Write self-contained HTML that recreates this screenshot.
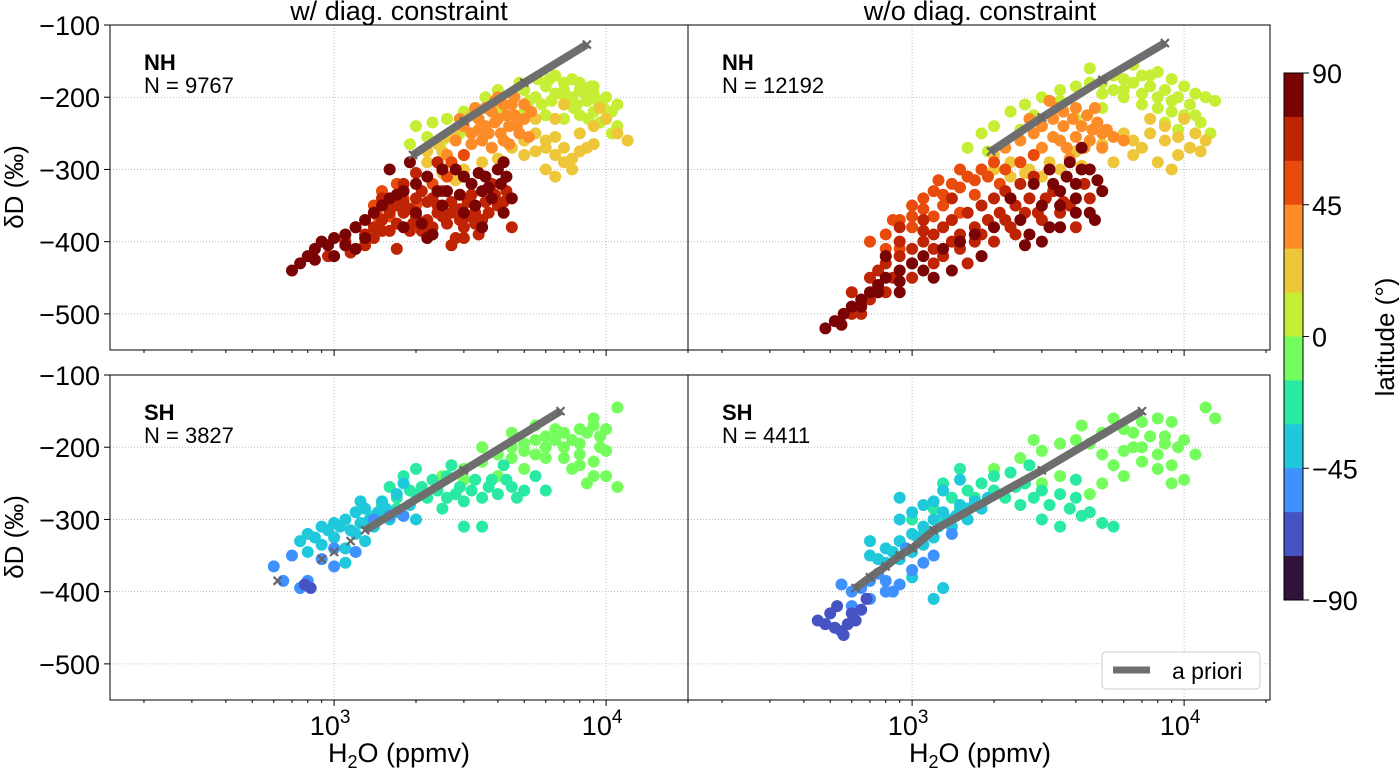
<!DOCTYPE html>
<html><head><meta charset="utf-8">
<style>
body{margin:0;background:#fff;}
svg{display:block;font-family:"Liberation Sans","DejaVu Sans",sans-serif;}
</style></head>
<body>
<svg id="chart" width="1399" height="769" viewBox="0 0 1399 769"></svg>
<script>
// ---- data ----
const xTicks=[1000,10000];
const yTicks=[-100,-200,-300,-400,-500];
const yTickLabels=["−100","−200","−300","−400","−500"];
const cbTicks=[90,45,0,-45,-90];
const cbTickLabels=["90","45","0","−45","−90"];
const latBands=[90,75,60,45,30,15,0,-15,-30,-45,-60,-75,-90];
const bandColors=["#7a0403","#bf2404","#e84b0c","#fb8c28","#edc63a","#c6ee34","#74fd5c","#2ae9a2","#20c8dc","#3f91fd","#4553c3","#30123b"];
const panelTitles=["NH","NH","SH","SH"];
const panelCounts=["N = 9767","N = 12192","N = 3827","N = 4411"];

const tl_lat8=[[2000,-240],[2300,-235],[2600,-230],[3000,-220],[3300,-215],[2200,-255],[2500,-260],[2900,-250],[4500,-195],[5000,-190],[5500,-200],[6000,-185],[6500,-195],[7000,-180],[7500,-200],[8000,-190],[8500,-205],[9000,-195],[10000,-200],[11000,-210],[6000,-225],[7000,-230],[8000,-225],[9000,-220],[10000,-230],[5000,-220],[7500,-175],[6500,-170],[4000,-215],[3600,-200],[1900,-265],
[5200,-205],[5800,-210],[6300,-205],[6800,-195],[7300,-205],[7800,-210],[8300,-195],[8800,-185],[9300,-205],[9800,-215],[6200,-175],[7000,-190],[8000,-180],[9000,-185],[10500,-220],[11000,-240],[10500,-250],[4800,-180],[4000,-190],[5600,-175],[7600,-215],[8600,-230],[9500,-235]];
const tl_lat22=[[2500,-275],[2700,-290],[3000,-300],[3500,-290],[4000,-285],[4500,-270],[5000,-260],[5500,-250],[6000,-260],[6500,-280],[7000,-290],[7500,-300],[6000,-300],[5000,-280],[5500,-230],[6500,-230],[7000,-210],[8000,-250],[9000,-240],[10000,-230],[11000,-250],[8500,-270],[2200,-290],[6500,-310],[12000,-260],[9500,-215],
[2200,-275],[2400,-265],[2600,-255],[2800,-245],[3000,-235],[3200,-225],[2500,-305],[2800,-315],[5500,-275],[6000,-270],[7000,-270],[8000,-275],[7500,-285],[9000,-265],[6500,-255]];
const tl_lat38=[[2800,-260],[3000,-240],[3200,-250],[3400,-230],[3600,-240],[3800,-220],[4000,-230],[4200,-210],[4400,-240],[4600,-225],[3500,-260],[3000,-280],[3800,-270],[4200,-260],[2600,-280],[5000,-210],[4800,-250],[3300,-215],[2900,-230],[4000,-200],
[3600,-215],[3900,-235],[4100,-250],[4300,-225],[4500,-210],[4700,-240],[5000,-230],[5300,-220],[3700,-250],[4400,-265],[3200,-265],[5200,-255],[4600,-200],[3400,-245],[3900,-205]];
const tl_lat50=[[1400,-350],[1500,-330],[1600,-345],[1700,-320],[1800,-340],[2000,-350],[1600,-365],[1450,-365],[2300,-320],[2700,-290],[3000,-280],[2600,-310]];
const tl_lat65=[[1300,-390],[1400,-380],[1500,-370],[1600,-360],[1700,-350],[1800,-345],[1900,-355],[2000,-340],[2100,-330],[2300,-340],[2500,-330],[2700,-345],[2900,-355],[3100,-345],[3300,-360],[3500,-370],[3700,-360],[4000,-350],[2200,-370],[2600,-375],[3000,-380],[3400,-390],[1800,-320],[2000,-305],[2400,-290],[1500,-340],[1200,-380],[1100,-400],[4500,-380],[2800,-395],[1700,-410],[1950,-375],[3800,-320],[1600,-385],[2400,-360],
[1400,-395],[1500,-385],[1700,-375],[1900,-385],[2100,-385],[2300,-380],[2500,-365],[2700,-360],[2900,-370],[3100,-365],[3300,-375],[3600,-345],[3200,-335],[2400,-350],[2000,-365],[1800,-360],[1300,-405],[1150,-415],[950,-420],[2700,-405],[3900,-335],[4300,-330],[3000,-395],[2200,-345],[1600,-350],[4200,-345]];
const tl_lat80=[[700,-440],[750,-430],[800,-420],[850,-410],[900,-400],[950,-405],[1000,-395],[1100,-390],[1200,-380],[1300,-370],[1400,-360],[1500,-350],[1600,-340],[1700,-335],[1800,-330],[2000,-320],[2200,-310],[2500,-300],[2800,-300],[3000,-310],[3200,-320],[3500,-330],[3800,-340],[4000,-300],[4200,-290],[3000,-360],[2500,-350],[2000,-360],[1800,-380],[3500,-380],[2200,-395],[4500,-340],[1600,-300],[1900,-290],[1200,-410],[1000,-420],[850,-425],[2600,-330],[3300,-350],[4200,-360],
[3600,-310],[3700,-325],[4100,-320],[4300,-310],[3400,-305],[2400,-330],[2900,-335],[1300,-395],[1100,-405],[2100,-375],[2300,-390]];
const tl_prior=[[1950,-280],[3000,-233],[5000,-180],[8500,-127]];

const tr_lat8=[[1600,-270],[1800,-250],[2000,-240],[2300,-220],[2600,-210],[3000,-200],[3500,-190],[4000,-185],[5000,-180],[6000,-175],[7000,-170],[8000,-165],[9000,-175],[10000,-185],[11000,-195],[12000,-200],[13000,-205],[6000,-200],[7000,-210],[8000,-215],[9000,-220],[10000,-225],[5000,-215],[4000,-230],[3000,-240],[2500,-245],[1900,-275],[6500,-155],[4500,-160],[5500,-190],[11000,-225],
[5500,-170],[6500,-180],[7500,-185],[8500,-190],[9500,-200],[10500,-210],[7000,-195],[8000,-200],[9000,-205],[6000,-190],[5000,-195],[4500,-180],[11500,-235],[12500,-250],[9500,-245],[8500,-235],[7500,-170],[3500,-205],[2800,-225]];
const tr_lat22=[[1800,-300],[2000,-280],[2300,-290],[2700,-300],[3200,-290],[4000,-275],[5000,-265],[6000,-250],[7000,-270],[8000,-290],[9000,-300],[8500,-240],[10000,-230],[11000,-250],[12000,-260],[6500,-280],[5500,-290],[7500,-230],[9500,-280],[1600,-310],
[2000,-300],[2300,-310],[2600,-305],[3000,-310],[3500,-300],[4200,-295],[6500,-260],[7500,-250],[8500,-260],[10500,-270],[11500,-275],[9500,-255]];
const tr_lat38=[[2200,-270],[2500,-260],[2800,-250],[3000,-240],[3300,-230],[3600,-220],[4000,-215],[4400,-225],[4800,-235],[5200,-245],[3000,-270],[3500,-260],[4000,-255],[4500,-260],[2500,-290],[3800,-285],[5000,-270],[3200,-205],[2700,-230],
[3600,-240],[3900,-230],[4200,-240],[4600,-245],[5000,-250],[5500,-255],[4300,-270],[3300,-255],[3700,-270],[4700,-215],[3400,-215],[6000,-260]];
const tr_lat50=[[800,-390],[900,-370],[1000,-350],[1100,-340],[1200,-330],[1400,-320],[1600,-310],[1800,-300],[2000,-290],[2200,-300],[1300,-350],[1500,-360],[1000,-380],[700,-400],[2500,-290],[2800,-280],[1700,-335],[2100,-320],[1200,-365],[900,-410],
[1100,-355],[1300,-335],[1500,-325],[1700,-315],[1900,-310],[1000,-365],[800,-410],[850,-370],[1250,-315],[1500,-300]];
const tr_lat65=[[600,-470],[700,-450],[800,-430],[900,-420],[1000,-410],[1100,-400],[1200,-390],[1300,-380],[1400,-370],[1600,-360],[1800,-350],[2000,-340],[2200,-330],[2500,-320],[2800,-310],[3100,-340],[2600,-360],[2200,-370],[1800,-390],[1500,-410],[1200,-430],[1000,-450],[800,-470],[650,-500],[1100,-370],[1400,-340],[2000,-400],[2400,-390],[3000,-370],[3500,-360],[4000,-380],[4500,-340],[900,-380],[750,-440],[1600,-430],
[1300,-420],[1500,-390],[1700,-380],[1900,-370],[2100,-360],[2400,-350],[2700,-340],[3300,-330],[2900,-360],[2300,-380],[1700,-400],[1400,-400],[1000,-430],[850,-450],[700,-480],[600,-500],[1200,-410],[900,-400],[1100,-385],[3800,-350],[4300,-320],[3600,-345]];
const tr_lat80=[[480,-520],[520,-510],[560,-500],[600,-490],[650,-480],[700,-470],[750,-460],[800,-450],[900,-440],[1000,-430],[1100,-420],[1300,-410],[1500,-400],[1700,-390],[2000,-380],[2500,-370],[3000,-350],[3500,-330],[4000,-320],[4500,-300],[3800,-290],[3200,-300],[2800,-320],[2300,-340],[3500,-380],[4000,-360],[4500,-360],[2600,-405],[1200,-450],[900,-470],[1400,-440],[800,-420],[4200,-270],[5000,-330],[3000,-400],[1800,-420],
[550,-515],[650,-490],[750,-470],[900,-455],[1100,-440],[3300,-320],[3700,-310],[4200,-300],[4800,-315],[4000,-340],[3500,-350],[4700,-370],[3200,-380],[2700,-390]];
const tr_prior=[[1950,-275],[3000,-228],[5000,-176],[8500,-125]];

const bl_lat7=[[2500,-240],[3000,-230],[3500,-220],[4000,-210],[4500,-200],[5000,-195],[5500,-190],[6000,-185],[7000,-180],[8000,-175],[9000,-170],[10000,-175],[11000,-145],[9000,-160],[7000,-200],[8000,-210],[9000,-220],[10000,-240],[11000,-255],[6000,-215],[5000,-230],[4000,-240],[7500,-230],[8500,-250],[6500,-190],[5500,-170],[4500,-180],[3500,-200],[3000,-245],[9500,-200],
[6500,-175],[7500,-190],[8500,-180],[9500,-185],[10000,-205],[7000,-215],[8000,-225],[6000,-200],[5000,-205],[4500,-215],[5500,-210],[9000,-240],[8000,-195]];
const bl_lat22=[[1500,-280],[1700,-270],[1900,-260],[2100,-255],[2300,-245],[2600,-240],[2900,-255],[3200,-260],[3500,-270],[4000,-265],[4500,-255],[5000,-260],[3000,-310],[3500,-310],[2500,-285],[2000,-230],[1800,-240],[2200,-270],[1400,-295],[3800,-245],[4200,-225],[5500,-240],[6000,-260],[2700,-225],[1600,-255],
[2400,-260],[2800,-265],[3300,-245],[3700,-255],[4300,-245],[2000,-265],[1700,-285],[2600,-270],[3000,-275],[4700,-270]];
const bl_lat37=[[800,-320],[900,-310],[1000,-305],[1100,-300],[1200,-290],[1300,-285],[1500,-275],[1700,-265],[1900,-280],[1000,-325],[900,-335],[1200,-320],[1400,-310],[1600,-300],[800,-345],[1100,-340],[2000,-300],[1300,-330],[1800,-250],[1100,-360],[750,-330],
[950,-315],[1050,-310],[1150,-315],[1250,-305],[1350,-300],[1450,-290],[850,-325],[1550,-285],[1250,-275],[1700,-290]];
const bl_lat52=[[600,-365],[650,-385],[800,-385],[750,-395],[900,-355],[1000,-340],[1200,-345],[1400,-300],[1600,-295],[1800,-295],[700,-350],[1000,-365]];
const bl_lat67=[[780,-390],[820,-395]];
const bl_prior=[[1300,-315],[3000,-232],[6800,-150]];
const bl_prior_extra=[[620,-385],[900,-355],[1000,-345],[1150,-330]];

const br_lat7=[[2000,-230],[2500,-215],[3000,-205],[3500,-195],[4000,-190],[5000,-180],[6000,-175],[7000,-165],[8000,-160],[9000,-165],[10000,-190],[11000,-210],[12000,-145],[13000,-160],[10000,-245],[9000,-225],[8000,-210],[7000,-220],[6000,-240],[5000,-250],[4500,-265],[3500,-240],[3000,-250],[6500,-200],[8500,-185],[4200,-170],[5500,-160],[2800,-190],
[6500,-180],[7500,-185],[8500,-195],[9500,-200],[7000,-200],[8000,-230],[6000,-205],[5000,-210],[4500,-195],[5500,-225],[9000,-250]];
const br_lat22=[[1000,-300],[1200,-285],[1400,-270],[1600,-260],[1800,-250],[2000,-240],[2300,-235],[2600,-250],[3000,-260],[3500,-265],[4000,-270],[4500,-290],[3000,-300],[3500,-310],[5000,-305],[1500,-230],[1300,-250],[2200,-270],[1100,-320],[5500,-310],[2700,-225],[4000,-245],
[2400,-255],[2800,-270],[3200,-280],[3800,-285],[2000,-260],[1700,-270],[1500,-285],[1300,-300],[4200,-295],[2500,-280]];
const br_lat37=[[700,-350],[800,-340],[900,-330],[1000,-320],[1100,-310],[1200,-300],[1300,-290],[1500,-280],[1700,-275],[1900,-270],[800,-360],[900,-355],[1000,-345],[1100,-335],[1200,-325],[1400,-310],[1600,-300],[900,-300],[1100,-280],[1300,-260],[1500,-245],[1000,-380],[1300,-395],[1200,-410],[900,-270],[700,-330],
[1050,-325],[1150,-320],[1250,-310],[1350,-300],[950,-340],[850,-345],[750,-355],[1450,-295],[1600,-285],[1800,-285],[1000,-290],[1200,-275]];
const br_lat52=[[550,-390],[600,-400],[650,-395],[700,-385],[750,-375],[800,-385],[850,-400],[900,-390],[1000,-370],[1100,-360],[1200,-350],[600,-420],[700,-410],[800,-400],[950,-340],[1400,-320]];
const br_lat67=[[450,-440],[480,-445],[520,-450],[550,-455],[580,-445],[600,-430],[620,-440],[650,-425],[500,-430],[560,-460],[680,-410],[530,-420]];
const br_prior=[[620,-395],[700,-380],[800,-365],[900,-350],[1000,-340],[1200,-315],[3000,-232],[7000,-150]];
const br_prior_extra=[];

// ---- drawing ----
const NS="http://www.w3.org/2000/svg";
const svg=document.getElementById("chart");
function mk(tag,attrs,parent){const e=document.createElementNS(NS,tag);for(const k in attrs)e.setAttribute(k,attrs[k]);(parent||svg).appendChild(e);return e;}
const xMin=Math.log10(150),xMax=Math.log10(20000),yTop=-100,yBot=-550;
const panels=[{x:110,y:25,w:578,h:325},{x:688,y:25,w:582,h:325},{x:110,y:375,w:578,h:325},{x:688,y:375,w:582,h:325}];
function xs(p,v){return p.x+(Math.log10(v)-xMin)/(xMax-xMin)*578;}
function ys(p,v){return p.y+(yTop-v)/(yTop-yBot)*p.h;}
function latColor(lat){for(let i=0;i<bandColors.length;i++){if(lat<=latBands[i]&&lat>=latBands[i+1])return bandColors[i];}return "#000";}

const panelData=[
 [[tl_lat8,8],[tl_lat22,22],[tl_lat38,38],[tl_lat50,50],[tl_lat65,65],[tl_lat80,80]],
 [[tr_lat8,8],[tr_lat22,22],[tr_lat38,38],[tr_lat50,50],[tr_lat65,65],[tr_lat80,80]],
 [[bl_lat7,-7],[bl_lat22,-22],[bl_lat37,-37],[bl_lat52,-52],[bl_lat67,-67]],
 [[br_lat7,-7],[br_lat22,-22],[br_lat37,-37],[br_lat52,-52],[br_lat67,-67]]];
const priors=[tl_prior,tr_prior,bl_prior,br_prior];
const priorExtras=[[],[],bl_prior_extra,br_prior_extra];

function xMarker(g,cx,cy){
  const m=mk("path",{d:`M${cx-4},${cy-4}L${cx+4},${cy+4}M${cx-4},${cy+4}L${cx+4},${cy-4}`,stroke:"#666","stroke-width":2.2},g);
  
  
}

panels.forEach((p,pi)=>{
  const g=mk("g",{});
  
  
  yTicks.forEach(t=>{const l=mk("line",{x1:p.x,x2:p.x+p.w,y1:ys(p,t),y2:ys(p,t),stroke:"#b0b0b0","stroke-width":0.8,"stroke-dasharray":"1,2"},g);
    
    });
  xTicks.forEach(t=>{const l=mk("line",{x1:xs(p,t),x2:xs(p,t),y1:p.y,y2:p.y+p.h,stroke:"#b0b0b0","stroke-width":0.8,"stroke-dasharray":"1,2"},g);
    
    });
  panelData[pi].forEach(([arr,lat])=>{
    arr.forEach(d=>{const c=mk("circle",{cx:xs(p,d[0]),cy:ys(p,d[1]),r:6,fill:latColor(lat)},g);
      
      });
  });
  const pr=priors[pi];
  const pl=mk("polyline",{points:pr.map(d=>xs(p,d[0])+","+ys(p,d[1])).join(" "),fill:"none",stroke:"#6e6e6e","stroke-width":8},g);
  
  
  pr.forEach(d=>xMarker(g,xs(p,d[0]),ys(p,d[1])));
  priorExtras[pi].forEach(d=>xMarker(g,xs(p,d[0]),ys(p,d[1])));
  const fr=mk("rect",{x:p.x,y:p.y,width:p.w,height:p.h,fill:"none",stroke:"#000","stroke-width":1},g);
  
  
  const t1=mk("text",{x:p.x+34,y:p.y+45,"font-size":22,"font-weight":"bold"},g);t1.textContent=panelTitles[pi];
  
  
  const t2=mk("text",{x:p.x+34,y:p.y+68,"font-size":22},g);t2.textContent=panelCounts[pi];
  
  
  if(p.x===110){yTicks.forEach((t,i)=>{mk("line",{x1:p.x-6,x2:p.x,y1:ys(p,t),y2:ys(p,t),stroke:"#000"},g);
    const tx=mk("text",{x:p.x-10,y:ys(p,t)+10,"font-size":27,"text-anchor":"end"},g);tx.textContent=yTickLabels[i];
    
    });}
  for(let dec=100;dec<=10000;dec*=10){for(let k=1;k<10;k++){const v=dec*k;const lv=Math.log10(v);if(lv<xMin||lv>xMax)continue;
    const xx=xs(p,v);const len=k===1?6:3;mk("line",{x1:xx,x2:xx,y1:p.y+p.h,y2:p.y+p.h+len,stroke:"#000"},g);}}
  if(p.y===375){xTicks.forEach(t=>{const tx=mk("text",{x:xs(p,t)-4,y:p.y+p.h+35,"font-size":27,"text-anchor":"middle"},g);
    tx.innerHTML='10<tspan dy="-12" font-size="19">'+Math.log10(t)+'</tspan>';
    
    });}
});

// legend
const lg=mk("g",{});


mk("rect",{x:1102,y:652,width:158,height:37,rx:4,fill:"#fff",stroke:"#ccc"},lg);
mk("line",{x1:1113,x2:1150,y1:670,y2:670,stroke:"#6e6e6e","stroke-width":7},lg);
const lt=mk("text",{x:1172,y:679,"font-size":23},lg);lt.textContent="a priori";



// colorbar
const cb=mk("g",{});


const cbY0=73,cbY1=600,cbX=1284,cbW=19;
function cby(v){return cbY0+(90-v)/180*(cbY1-cbY0);}
bandColors.forEach((c,i)=>{const r=mk("rect",{x:cbX,y:cby(latBands[i]),width:cbW,height:cby(latBands[i+1])-cby(latBands[i])+0.5,fill:c},cb);
  
  });
mk("rect",{x:cbX,y:cbY0,width:cbW,height:cbY1-cbY0,fill:"none",stroke:"#000"},cb);
cbTicks.forEach((t,i)=>{mk("line",{x1:cbX+cbW,x2:cbX+cbW+6,y1:cby(t),y2:cby(t),stroke:"#000"},cb);
  const tx=mk("text",{x:cbX+cbW+9,y:cby(t)+10,"font-size":27},cb);tx.textContent=cbTickLabels[i];
  
  });

function txt(s,attrs,name){const t=mk("text",attrs);t.textContent=s;return t;}
txt("w/ diag. constraint",{x:399,y:20,"font-size":27,"text-anchor":"middle"},"left-column-title");
txt("w/o diag. constraint",{x:980,y:20,"font-size":27,"text-anchor":"middle"},"right-column-title");
txt("δD (‰)",{x:0,y:0,"font-size":26,"text-anchor":"middle",transform:"translate(23,187) rotate(-90)"},"y-axis-title-top");
txt("δD (‰)",{x:0,y:0,"font-size":26,"text-anchor":"middle",transform:"translate(23,537) rotate(-90)"},"y-axis-title-bottom");
txt("latitude (°)",{x:0,y:0,"font-size":26,"text-anchor":"middle",transform:"translate(1394,337) rotate(-90)"},"colorbar-title");
const xl1=txt("",{x:399,y:762,"font-size":27,"text-anchor":"middle"},"x-axis-title-left");
xl1.innerHTML='H<tspan dy="6" font-size="18">2</tspan><tspan dy="-6">O (ppmv)</tspan>';
const xl2=txt("",{x:980,y:762,"font-size":27,"text-anchor":"middle"},"x-axis-title-right");
xl2.innerHTML='H<tspan dy="6" font-size="18">2</tspan><tspan dy="-6">O (ppmv)</tspan>';
</script>
</body></html>
